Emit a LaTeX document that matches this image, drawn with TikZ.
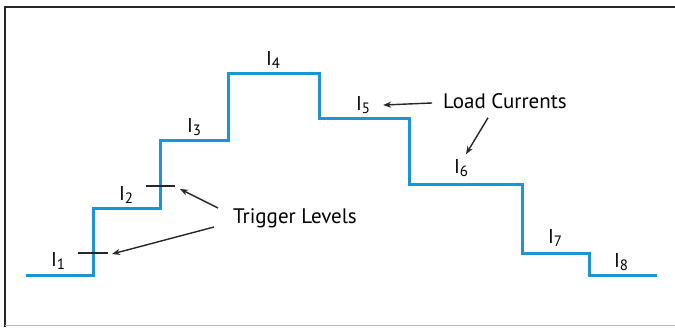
\documentclass[tikz,border=0pt]{standalone}
\usepackage{fontspec}
\setmainfont{PT Sans}
\usetikzlibrary{arrows.meta, positioning, calc}
\definecolor{stairblue}{HTML}{1A96D4}
\definecolor{framedark}{HTML}{262626}
\definecolor{framelight}{HTML}{BBBBBB}
\newcommand{\lvlname}[1]{I\raisebox{-0.3ex}{\fontsize{15}{17}\selectfont #1}}

\begin{document}
\begin{tikzpicture}[
  x=1pt, y=-1pt,
  every node/.style={font=\fontsize{20}{23}\selectfont, inner sep=0pt},
  callout/.style={font=\fontsize{21}{24}\selectfont},
  pointer/.style={-{Stealth[length=8pt, width=6pt]}, line width=1.4pt, black!85},
  tickmark/.style={line width=1.4pt, black!85},
]
\useasboundingbox (0,0) rectangle (675,327);

% frame
\draw[framedark, line width=2.2pt] (5,327) -- (5,7) -- (675,7);
\draw[framelight, line width=1pt] (5,325.5) -- (675,325.5);

% load profile
\draw[stairblue, line width=3pt] (26,275) -| (93,208) -| (160,140) -| (228,73) -| (319,118)
  -| (409,184) -| (522,253) -| (589,275) -- (657,275);

% trigger marks
\draw[tickmark] (78,253) -- (108,253) coordinate (t1);
\draw[tickmark] (146,186) -- (175,186) coordinate (t2);

% level labels
\node (i1) at (58,261) {\lvlname{1}};
\node (i2) at (126,195) {\lvlname{2}};
\node (i3) at (194,127) {\lvlname{3}};
\node (i4) at (273,60) {\lvlname{4}};
\node (i5) at (363,105) {\lvlname{5}};
\node (i6) at (461,168) {\lvlname{6}};
\node (i7) at (555,238) {\lvlname{7}};
\node (i8) at (621,262) {\lvlname{8}};

% callouts
\node[callout] (lc) at (505,101) {Load Currents};
\node[callout] (tl) at (295,218) {Trigger Levels};

\draw[pointer] ([shift={(-11,2)}]lc.west) -- ([shift={(13,0)}]i5.east);
\draw[pointer] ([shift={(-17,9)}]lc.south) -- ([shift={(5,-5)}]i6.north);
\draw[pointer] ([shift={(-15,-10)}]tl.west) -- ([shift={(5,3)}]t2);
\draw[pointer] ([shift={(-19,9)}]tl.west) -- ([shift={(4,1)}]t1);

\end{tikzpicture}
\end{document}
